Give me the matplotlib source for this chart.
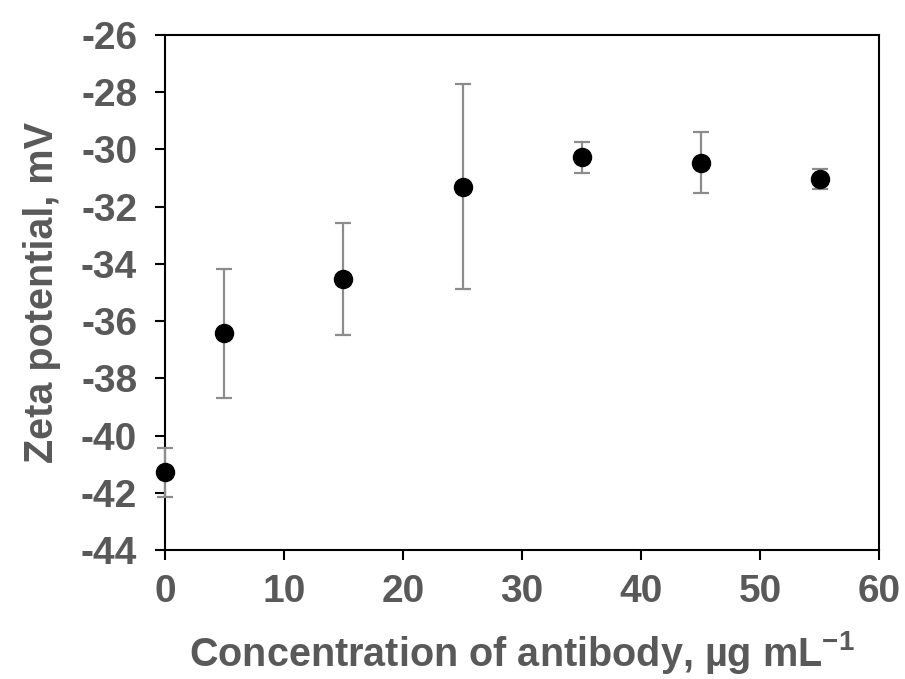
import matplotlib
matplotlib.use("Agg")
import matplotlib.pyplot as plt

# Données
concentration = [0, 5, 15, 25, 35, 45, 55]
zeta = [-41.28, -36.43, -34.53, -31.30, -30.28, -30.47, -31.03]
erreur = [0.86, 2.25, 1.95, 3.58, 0.53, 1.07, 0.34]

plt.rcParams['font.family'] = ['Liberation Sans', 'DejaVu Sans']
plt.rcParams['axes.unicode_minus'] = False
plt.rcParams['mathtext.fontset'] = 'custom'
plt.rcParams['mathtext.bf'] = 'Liberation Sans:bold'
plt.rcParams['mathtext.rm'] = 'Liberation Sans'
gris = '#595959'

fig = plt.figure(figsize=(9.05, 6.79), dpi=100)
ax = fig.add_axes([0.1823, 0.19, 0.789, 0.7585])

ax.errorbar(concentration, zeta, yerr=erreur, fmt='o', color='black',
            markersize=13, ecolor='#8c8c8c', elinewidth=1.6, capsize=6,
            capthick=1.6, clip_on=False, zorder=3)

ax.set_xlim(0, 60)
ax.set_ylim(-44, -26)
ax.set_xticks(range(0, 61, 10))
ax.set_yticks(range(-44, -25, 2))

for s in ax.spines.values():
    s.set_linewidth(1.5)
ax.tick_params(direction='out', length=7, width=1.5, labelsize=28,
               labelcolor=gris)
ax.tick_params(axis='y', pad=13)
ax.tick_params(axis='x', pad=10)
for lab in ax.get_xticklabels() + ax.get_yticklabels():
    lab.set_fontweight('bold')

ax.set_xlabel("Concentration of antibody, µg mL$^{\\mathbf{-1}}$", fontsize=28.5,
              fontweight='bold', color=gris, labelpad=14)
ax.set_ylabel("Zeta potential, mV", fontsize=28.5, fontweight='bold',
              color=gris, labelpad=14)

fig.savefig("out.png", dpi=100)
